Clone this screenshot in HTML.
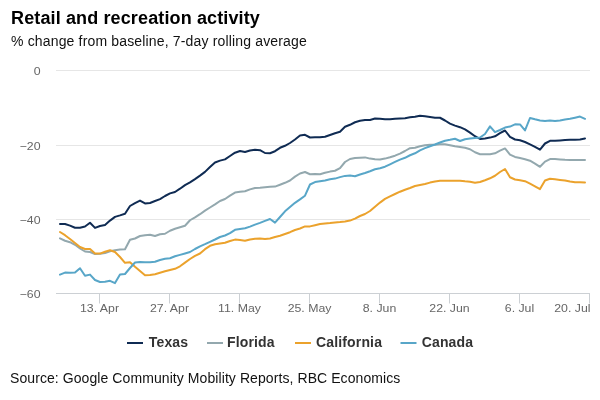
<!DOCTYPE html>
<html><head><meta charset="utf-8"><style>
html,body{margin:0;padding:0;background:#fff;}
.t,.s,.src{will-change:transform;}
body{width:600px;height:400px;position:relative;overflow:hidden;font-family:"Liberation Sans",sans-serif;}
.t{position:absolute;left:10.5px;top:7.5px;font-size:18px;font-weight:bold;color:#000;white-space:nowrap;line-height:20px;letter-spacing:0.13px;}
.s{position:absolute;left:10.5px;top:33px;font-size:14px;color:#111;white-space:nowrap;line-height:16px;letter-spacing:0.16px;}
.src{position:absolute;left:10px;top:370px;font-size:14px;color:#111;white-space:nowrap;line-height:16px;letter-spacing:0.08px;}
</style></head><body>
<svg width="600" height="400" viewBox="0 0 600 400" style="position:absolute;left:0;top:0;will-change:transform"><path d="M56 70.5 L590 70.5" stroke="#e6e6e6" stroke-width="1" fill="none"/><path d="M56 145.5 L590 145.5" stroke="#e6e6e6" stroke-width="1" fill="none"/><path d="M56 219.5 L590 219.5" stroke="#e6e6e6" stroke-width="1" fill="none"/><path d="M56 293.5 L590 293.5" stroke="#ccd0d4" stroke-width="1" fill="none"/><path d="M99.5 293.5 L99.5 303.5" stroke="#ccd0d4" stroke-width="1" fill="none"/><path d="M169.5 293.5 L169.5 303.5" stroke="#ccd0d4" stroke-width="1" fill="none"/><path d="M239.5 293.5 L239.5 303.5" stroke="#ccd0d4" stroke-width="1" fill="none"/><path d="M309.5 293.5 L309.5 303.5" stroke="#ccd0d4" stroke-width="1" fill="none"/><path d="M379.5 293.5 L379.5 303.5" stroke="#ccd0d4" stroke-width="1" fill="none"/><path d="M449.5 293.5 L449.5 303.5" stroke="#ccd0d4" stroke-width="1" fill="none"/><path d="M519.5 293.5 L519.5 303.5" stroke="#ccd0d4" stroke-width="1" fill="none"/><path d="M589.5 293.5 L589.5 303.5" stroke="#ccd0d4" stroke-width="1" fill="none"/><text transform="translate(40.5 74.5) scale(1.12 1)" text-anchor="end" font-family="Liberation Sans, sans-serif" font-size="11" fill="#666666">0</text><text transform="translate(40.5 149.5) scale(1.12 1)" text-anchor="end" font-family="Liberation Sans, sans-serif" font-size="11" fill="#666666">−20</text><text transform="translate(40.5 223.5) scale(1.12 1)" text-anchor="end" font-family="Liberation Sans, sans-serif" font-size="11" fill="#666666">−40</text><text transform="translate(40.5 297.5) scale(1.12 1)" text-anchor="end" font-family="Liberation Sans, sans-serif" font-size="11" fill="#666666">−60</text><text transform="translate(99.5 311.7) scale(1.12 1)" text-anchor="middle" font-family="Liberation Sans, sans-serif" font-size="11" fill="#666666">13. Apr</text><text transform="translate(169.5 311.7) scale(1.12 1)" text-anchor="middle" font-family="Liberation Sans, sans-serif" font-size="11" fill="#666666">27. Apr</text><text transform="translate(239.5 311.7) scale(1.12 1)" text-anchor="middle" font-family="Liberation Sans, sans-serif" font-size="11" fill="#666666">11. May</text><text transform="translate(309.5 311.7) scale(1.12 1)" text-anchor="middle" font-family="Liberation Sans, sans-serif" font-size="11" fill="#666666">25. May</text><text transform="translate(379.5 311.7) scale(1.12 1)" text-anchor="middle" font-family="Liberation Sans, sans-serif" font-size="11" fill="#666666">8. Jun</text><text transform="translate(449.5 311.7) scale(1.12 1)" text-anchor="middle" font-family="Liberation Sans, sans-serif" font-size="11" fill="#666666">22. Jun</text><text transform="translate(519.5 311.7) scale(1.12 1)" text-anchor="middle" font-family="Liberation Sans, sans-serif" font-size="11" fill="#666666">6. Jul</text><text transform="translate(590.5 311.7) scale(1.12 1)" text-anchor="end" font-family="Liberation Sans, sans-serif" font-size="11" fill="#666666">20. Jul</text><path d="M60.00 223.90 L65.00 224.00 L70.00 225.60 L75.00 227.75 L80.00 227.75 L85.00 226.50 L90.00 222.75 L95.00 227.90 L100.00 226.00 L105.00 225.00 L110.00 220.60 L115.00 216.90 L120.00 215.40 L125.00 213.75 L130.00 206.00 L135.00 203.10 L140.00 200.60 L145.00 203.40 L150.00 203.00 L155.00 201.00 L160.00 199.10 L165.00 196.00 L170.00 193.40 L175.00 192.00 L180.00 188.70 L185.00 185.10 L190.00 182.40 L195.00 179.10 L200.00 175.60 L205.00 171.90 L210.00 167.00 L215.00 162.50 L220.00 160.60 L225.00 159.40 L230.00 156.00 L235.00 152.70 L240.00 151.00 L245.00 152.00 L250.00 150.50 L255.00 149.80 L260.00 150.20 L265.00 153.00 L270.00 153.20 L275.00 151.20 L280.00 147.80 L285.00 145.80 L290.00 143.00 L295.00 139.50 L300.00 135.50 L305.00 134.80 L310.00 137.50 L315.00 137.30 L320.00 137.25 L325.00 136.80 L330.00 135.00 L335.00 133.20 L340.00 131.70 L345.00 126.75 L350.00 124.80 L355.00 122.25 L360.00 120.75 L365.00 120.00 L370.00 120.00 L375.00 118.50 L380.00 118.80 L385.00 119.25 L390.00 119.25 L395.00 118.80 L400.00 118.50 L405.00 118.20 L410.00 117.30 L415.00 116.70 L420.00 115.80 L425.00 116.25 L430.00 117.00 L435.00 117.75 L440.00 117.75 L445.00 120.50 L450.00 123.60 L455.00 125.60 L460.00 127.20 L465.00 129.40 L470.00 132.60 L475.00 136.20 L480.00 139.00 L485.00 138.40 L490.00 137.60 L495.00 136.30 L500.00 133.20 L505.00 130.50 L510.00 136.80 L515.00 139.50 L520.00 140.20 L525.00 142.00 L530.00 144.30 L535.00 146.80 L540.00 149.70 L545.00 143.50 L550.00 140.80 L555.00 140.80 L560.00 140.40 L565.00 139.90 L570.00 139.75 L575.00 139.75 L580.00 139.40 L585.00 138.50" stroke="#0f2b53" stroke-width="2" fill="none" stroke-linejoin="round" stroke-linecap="round"/><path d="M60.00 238.40 L65.00 240.75 L70.00 242.20 L75.00 244.80 L80.00 248.50 L85.00 251.50 L90.00 252.00 L95.00 254.00 L100.00 253.80 L105.00 253.00 L110.00 251.20 L115.00 250.20 L120.00 249.50 L125.00 249.20 L130.00 239.80 L135.00 238.50 L140.00 236.00 L145.00 235.25 L150.00 234.80 L155.00 236.00 L160.00 234.20 L165.00 233.75 L170.00 230.75 L175.00 228.80 L180.00 227.30 L185.00 225.70 L190.00 220.25 L195.00 217.40 L200.00 214.20 L205.00 210.60 L210.00 207.50 L215.00 204.40 L220.00 201.00 L225.00 199.00 L230.00 195.70 L235.00 192.60 L240.00 191.80 L245.00 191.25 L250.00 189.40 L255.00 188.00 L260.00 187.80 L265.00 187.30 L270.00 186.75 L275.00 186.60 L280.00 184.70 L285.00 182.80 L290.00 180.50 L295.00 176.60 L300.00 173.50 L305.00 172.00 L310.00 174.25 L315.00 174.10 L320.00 174.20 L325.00 172.80 L330.00 171.60 L335.00 170.75 L340.00 168.20 L345.00 162.00 L350.00 159.00 L355.00 158.00 L360.00 157.75 L365.00 157.40 L370.00 158.60 L375.00 159.30 L380.00 159.60 L385.00 158.60 L390.00 157.30 L395.00 155.70 L400.00 153.60 L405.00 151.00 L410.00 148.20 L415.00 147.75 L420.00 146.25 L425.00 145.20 L430.00 144.75 L435.00 144.75 L440.00 144.30 L445.00 144.30 L450.00 145.20 L455.00 146.25 L460.00 147.00 L465.00 147.75 L470.00 149.25 L475.00 152.25 L480.00 154.20 L485.00 154.30 L490.00 154.30 L495.00 153.30 L500.00 150.70 L505.00 148.40 L510.00 154.60 L515.00 156.90 L520.00 158.00 L525.00 159.20 L530.00 160.70 L535.00 163.60 L540.00 166.80 L545.00 161.60 L550.00 159.10 L555.00 159.10 L560.00 159.40 L565.00 159.80 L570.00 160.00 L575.00 160.00 L580.00 160.00 L585.00 160.00" stroke="#93a8ae" stroke-width="2" fill="none" stroke-linejoin="round" stroke-linecap="round"/><path d="M60.00 232.00 L65.00 235.20 L70.00 239.00 L75.00 243.00 L80.00 247.00 L85.00 249.00 L90.00 249.00 L95.00 253.60 L100.00 253.60 L105.00 251.70 L110.00 250.20 L115.00 252.00 L120.00 257.00 L125.00 262.80 L130.00 262.20 L135.00 266.80 L140.00 271.00 L145.00 275.20 L150.00 275.00 L155.00 274.20 L160.00 272.80 L165.00 271.30 L170.00 270.00 L175.00 268.80 L180.00 266.30 L185.00 262.60 L190.00 259.00 L195.00 255.80 L200.00 253.50 L205.00 249.20 L210.00 245.80 L215.00 244.20 L220.00 243.50 L225.00 242.80 L230.00 241.00 L235.00 239.60 L240.00 240.00 L245.00 240.80 L250.00 239.50 L255.00 238.80 L260.00 238.50 L265.00 239.00 L270.00 238.50 L275.00 237.00 L280.00 235.80 L285.00 234.00 L290.00 232.20 L295.00 230.00 L300.00 228.50 L305.00 226.40 L310.00 226.40 L315.00 225.20 L320.00 224.00 L325.00 223.40 L330.00 223.00 L335.00 222.40 L340.00 222.00 L345.00 221.40 L350.00 220.60 L355.00 218.60 L360.00 216.00 L365.00 214.00 L370.00 211.00 L375.00 206.70 L380.00 202.60 L385.00 198.90 L390.00 196.30 L395.00 194.00 L400.00 191.70 L405.00 189.70 L410.00 188.00 L415.00 186.00 L420.00 185.00 L425.00 184.00 L430.00 182.60 L435.00 181.50 L440.00 180.70 L445.00 180.70 L450.00 180.70 L455.00 180.70 L460.00 180.70 L465.00 181.30 L470.00 181.75 L475.00 182.80 L480.00 182.00 L485.00 180.25 L490.00 178.30 L495.00 175.75 L500.00 172.00 L505.00 169.00 L510.00 177.25 L515.00 179.50 L520.00 180.25 L525.00 181.20 L530.00 183.70 L535.00 186.30 L540.00 189.10 L545.00 180.50 L550.00 178.75 L555.00 179.30 L560.00 179.90 L565.00 180.60 L570.00 181.60 L575.00 182.25 L580.00 182.25 L585.00 182.50" stroke="#eba22c" stroke-width="2" fill="none" stroke-linejoin="round" stroke-linecap="round"/><path d="M60.00 274.60 L65.00 272.60 L70.00 272.80 L75.00 272.60 L80.00 268.20 L85.00 275.80 L90.00 274.60 L95.00 280.00 L100.00 282.00 L105.00 281.70 L110.00 280.80 L115.00 283.10 L120.00 274.60 L125.00 274.00 L130.00 268.00 L135.00 262.50 L140.00 262.00 L145.00 262.25 L150.00 262.25 L155.00 261.80 L160.00 260.00 L165.00 258.80 L170.00 258.20 L175.00 256.25 L180.00 254.90 L185.00 253.50 L190.00 252.00 L195.00 249.00 L200.00 246.30 L205.00 244.20 L210.00 241.80 L215.00 239.50 L220.00 237.00 L225.00 235.50 L230.00 233.20 L235.00 229.80 L240.00 229.00 L245.00 228.20 L250.00 226.60 L255.00 224.60 L260.00 222.90 L265.00 220.90 L270.00 219.00 L275.00 222.60 L280.00 217.00 L285.00 211.30 L290.00 207.00 L295.00 202.80 L300.00 199.40 L305.00 195.70 L310.00 184.50 L315.00 182.10 L320.00 181.25 L325.00 180.50 L330.00 179.30 L335.00 178.60 L340.00 177.10 L345.00 175.90 L350.00 175.60 L355.00 176.30 L360.00 174.50 L365.00 173.00 L370.00 171.20 L375.00 169.25 L380.00 168.20 L385.00 166.70 L390.00 164.30 L395.00 161.90 L400.00 159.60 L405.00 157.80 L410.00 155.25 L415.00 153.30 L420.00 150.30 L425.00 148.20 L430.00 146.20 L435.00 144.50 L440.00 142.50 L445.00 140.70 L450.00 139.80 L455.00 138.75 L460.00 141.00 L465.00 139.20 L470.00 138.50 L475.00 138.00 L480.00 137.50 L485.00 134.00 L490.00 126.40 L495.00 132.20 L500.00 130.00 L505.00 127.60 L510.00 126.60 L515.00 124.30 L520.00 124.40 L525.00 130.40 L530.00 118.00 L535.00 119.30 L540.00 120.40 L545.00 121.00 L550.00 120.40 L555.00 120.90 L560.00 120.40 L565.00 119.40 L570.00 118.80 L575.00 117.70 L580.00 116.60 L585.00 118.80" stroke="#58a6c8" stroke-width="2" fill="none" stroke-linejoin="round" stroke-linecap="round"/><path d="M127 343 L143 343" stroke="#0f2b53" stroke-width="2" fill="none"/><text x="148.8" y="346.8" font-family="Liberation Sans, sans-serif" font-size="14" font-weight="bold" letter-spacing="0.15" fill="#333333">Texas</text><path d="M207 343 L223 343" stroke="#93a8ae" stroke-width="2" fill="none"/><text x="227" y="346.8" font-family="Liberation Sans, sans-serif" font-size="14" font-weight="bold" letter-spacing="0.15" fill="#333333">Florida</text><path d="M295 343 L311 343" stroke="#eba22c" stroke-width="2" fill="none"/><text x="316" y="346.8" font-family="Liberation Sans, sans-serif" font-size="14" font-weight="bold" letter-spacing="0.15" fill="#333333">California</text><path d="M400.5 343 L416.5 343" stroke="#58a6c8" stroke-width="2" fill="none"/><text x="421.7" y="346.8" font-family="Liberation Sans, sans-serif" font-size="14" font-weight="bold" letter-spacing="0.15" fill="#333333">Canada</text></svg>
<div class="t">Retail and recreation activity</div>
<div class="s">% change from baseline, 7-day rolling average</div>
<div class="src">Source: Google Community Mobility Reports, RBC Economics</div>
</body></html>
